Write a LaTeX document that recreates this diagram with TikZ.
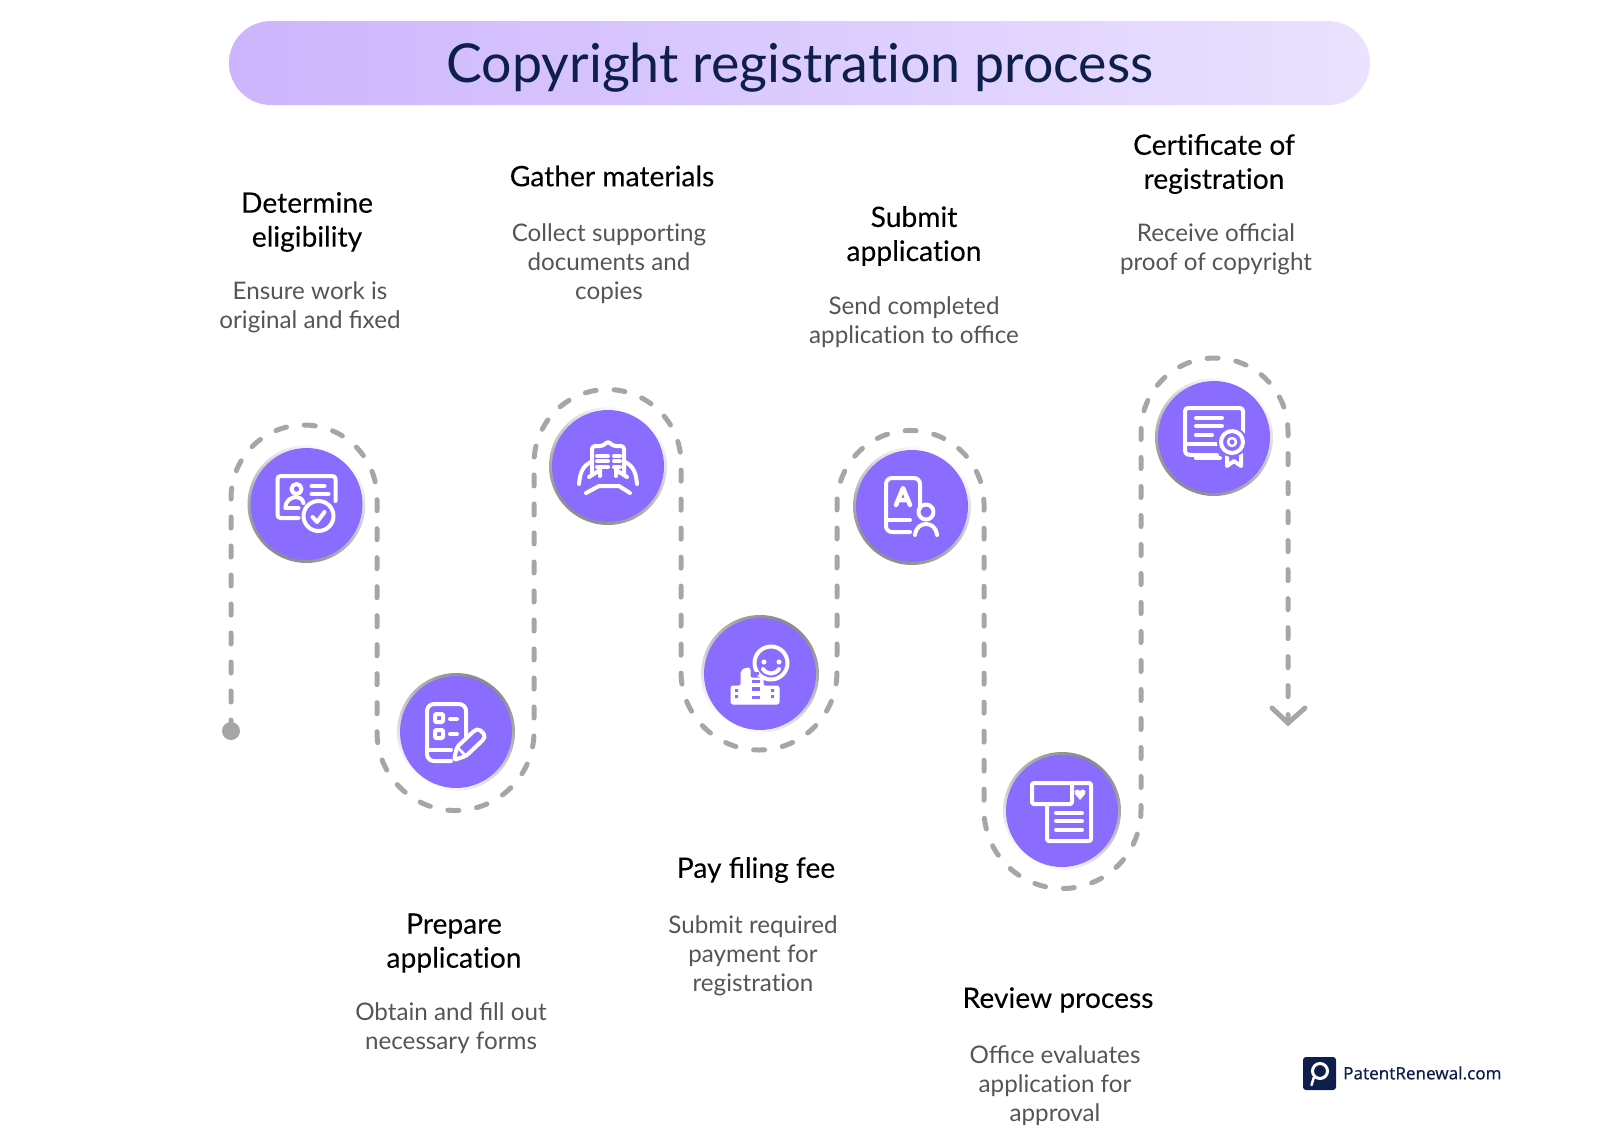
\documentclass[tikz,border=0pt]{standalone}
\usepackage{fontspec}
\setmainfont{Lato}
\newfontfamily\headfont[FakeBold=0.12]{Lato}
\newfontfamily\logofont[FakeBold=0.35]{Noto Sans}
\newcommand{\nolig}{\kern0pt }
\definecolor{trailc}{HTML}{A6A6A6}
\definecolor{disc}{HTML}{8A6CFF}
\definecolor{navy}{HTML}{0F1F4B}
\definecolor{bodyc}{HTML}{555555}
\definecolor{pillL}{HTML}{CDB5FD}
\definecolor{pillR}{HTML}{EAE2FE}
\definecolor{ringd}{HTML}{8C8C8C}
\tikzset{
  pill/.style={rounded corners=42pt,minimum width=1141pt,minimum height=84pt,left color=pillL,right color=pillR,draw=none,inner sep=0pt},
  trail/.style={draw=trailc,line width=5pt,line cap=round,dash pattern=on 11pt off 18pt},
  ringodd/.style={circle,minimum size=118pt,inner sep=0pt,shading=axis,top color=white,bottom color=ringd,shading angle=-30},
  ringeven/.style={circle,minimum size=118pt,inner sep=0pt,shading=axis,top color=ringd,bottom color=white,shading angle=-30},
  discn/.style={circle,minimum size=112pt,inner sep=0pt,fill=disc},
  ttl/.style={align=center,text=black,font=\headfont\fontsize{28.2}{34}\selectfont,inner sep=0pt},
  bdy/.style={align=center,text=bodyc,font=\fontsize{24.2}{29}\selectfont,inner sep=0pt},
  ic/.style={draw=white,line width=4pt,line cap=round,line join=round},
  icf/.style={fill=white,draw=white,line width=1pt,line join=round},
  icp/.style={fill=disc,draw=none}
}
\begin{document}
\begin{tikzpicture}[x=1pt,y=-1pt]
\useasboundingbox (0,0) rectangle (1600,1136);
% title
\node[pill] (title) at (799.5,63) {};
\node[text=navy,inner sep=0pt,font=\fontsize{53.7}{60}\selectfont] (titletext) at (800,68) {Copyright registrat\nolig ion process};
% trail
\node[circle,fill=trailc,minimum size=18pt,inner sep=0pt] (startdot) at (231,731) {};
\coordinate (endtip) at (1288,723);
\coordinate (wingL) at (1272,708);
\coordinate (wingR) at (1305,708);
\draw[trail] (startdot.center) -- (231,498) arc[start angle=180,end angle=0,radius=73pt]
  -- (377,732) arc[start angle=180,end angle=360,radius=78.5pt]
  -- (534,463) arc[start angle=180,end angle=0,radius=73.5pt]
  -- (681,672) arc[start angle=180,end angle=360,radius=78pt]
  -- (837,504) arc[start angle=180,end angle=0,radius=73.5pt]
  -- (984,810) arc[start angle=180,end angle=360,radius=78.5pt]
  -- (1141,431.5) arc[start angle=180,end angle=0,radius=73.5pt]
  -- (endtip);
\draw[draw=trailc,line width=5pt,line cap=round,line join=miter] (wingL) -- (endtip) -- (wingR);
% discs
\node[ringodd] (r1) at (306.5,504) {}; \node[discn] (c1) at (306.5,504) {};
\node[ringeven] (r2) at (456,732) {}; \node[discn] (c2) at (456,732) {};
\node[ringodd] (r3) at (608,466) {}; \node[discn] (c3) at (608,466) {};
\node[ringeven] (r4) at (760,674) {}; \node[discn] (c4) at (760,674) {};
\node[ringodd] (r5) at (912,506) {}; \node[discn] (c5) at (912,506) {};
\node[ringeven] (r6) at (1062,811) {}; \node[discn] (c6) at (1062,811) {};
\node[ringodd] (r7) at (1214,437) {}; \node[discn] (c7) at (1214,437) {};
% icon 1
\begin{scope}[shift={(c1.center)}]
\draw[ic,rounded corners=3pt] (29,-3) -- (29,-28) -- (-29,-28) -- (-29,14) -- (-8,14);
\draw[ic] (-10,-15) circle[radius=5pt];
\draw[ic] (-21,4) .. controls (-21,-4) and (-15,-7) .. (-10,-7) .. controls (-7,-7) and (-4,-5) .. (-3,-1);
\draw[ic] (-21,4) -- (-8,4);
\draw[ic] (5,-18) -- (18,-18) (5,-10) -- (22,-10);
\draw[ic] (12,12) circle[radius=15pt];
\draw[ic] (6,13) -- (10.5,18) -- (18,8);
\end{scope}
% icon 2
\begin{scope}[shift={(c2.center)}]
\draw[ic,rounded corners=7pt] (10,4) -- (10,-28) -- (-29,-28) -- (-29,29) -- (-5,29);
\draw[ic] (-28,18) -- (-5,18);
\draw[ic,rounded corners=1pt] (-21,-18) rectangle (-13,-10);
\draw[ic,rounded corners=1pt] (-21,-2) rectangle (-13,6);
\draw[ic] (-6,-13) -- (1,-13) (-6,2) -- (1,2);
\draw[ic,rounded corners=2pt] (-2,28) -- (1,15) -- (19,-2) -- (23,-3) -- (29,3) -- (28,7) -- (10,24) -- cycle;
\draw[ic,line width=2.5pt] (1,15) -- (10,24);
\end{scope}
% icon 3
\begin{scope}[shift={(c3.center)}]
\draw[ic,rounded corners=3pt] (-16,8) -- (-16,-20) -- (-5,-20) -- (0,-25) -- (5,-20) -- (16,-20) -- (16,8);
\draw[ic] (-11,-10) -- (0,-10) (-11,-5) -- (0,-5) (-11,1) -- (0,1);
\draw[ic] (6,-10) -- (12,-10) (6,-5) -- (12,-5) (6,1) -- (12,1);
\draw[ic] (-29,18) .. controls (-28,8) and (-26,0) .. (-17,-4);
\draw[ic] (29,18) .. controls (28,8) and (26,0) .. (17,-4);
\draw[ic] (-22,27) -- (-9,20) -- (11,20) -- (22,27);
\draw[ic] (-19,11) -- (-8,4) -- (-8,10) (19,11) -- (8,4) -- (8,10);
\end{scope}
% icon 4
\begin{scope}[shift={(c4.center)}]
\draw[ic] (11,-11) circle[radius=16.5pt];
\fill[white] (4,-12) circle[radius=2.5pt] (19,-12) circle[radius=2.5pt];
\draw[ic] (3,-5) .. controls (7,1) and (15,1) .. (19,-5);
\draw[icf,rounded corners=2pt] (-29,12) -- (-19,12) -- (-19,-3) -- (-14,-6) -- (-10,-6) -- (-10,4) -- (3,4) -- (3,12) -- (19,12) -- (19,30) -- (-29,30) -- cycle;
\fill[disc] (-8,-2) rectangle (-1,1);
\fill[disc] (-8,6) rectangle (0,9);
\fill[disc] (-8,13) rectangle (0,17);
\fill[disc] (-8,22) rectangle (0,25);
\fill[disc] (-25,15) rectangle (-22,18) (-25,21) rectangle (-22,24);
\fill[disc] (11,15) rectangle (14,18) (11,21) rectangle (14,24);
\end{scope}
% icon 5
\begin{scope}[shift={(c5.center)}]
\draw[ic,rounded corners=6pt] (8,2) -- (8,-28) -- (-26,-28) -- (-26,26) -- (-2,26);
\draw[ic] (-25,14) -- (-2,14);
\draw[ic,line width=4.5pt] (-16,-1) -- (-9,-18) -- (-2,-1) (-13,-6) -- (-5,-6);
\draw[ic] (14,6) circle[radius=7.5pt];
\draw[ic] (3,29) .. controls (4,21) and (9,18) .. (14,18) .. controls (19,18) and (24,21) .. (25,29);
\end{scope}
% icon 6
\begin{scope}[shift={(c6.center)}]
\draw[ic,rounded corners=2pt] (-30,-28) rectangle (10,-7);
\draw[ic,rounded corners=2pt] (10,-28) -- (29,-28) -- (29,30) -- (-15,30) -- (-15,-7);
\draw[ic] (-6,2) -- (20,2) (-6,10) -- (20,10) (-6,18.5) -- (20,18.5);
\fill[white] (18,-11) -- (13,-17) .. controls (11,-21) and (16,-23) .. (18,-20) .. controls (20,-23) and (25,-21) .. (23,-17) -- cycle;
\end{scope}
% icon 7
\begin{scope}[shift={(c7.center)}]
\draw[ic,rounded corners=3pt] (29,-5) -- (29,-29) -- (-29,-29) -- (-29,17) -- (-24,18) -- (3,18);
\draw[ic] (-18,-19) -- (8,-19) (-18,-11) -- (8,-11) (-18,-2) -- (-2,-2);
\draw[ic] (-26,7) -- (3,7);
\draw[ic] (-18,21) -- (6,21);
\draw[ic] (13,17) -- (13,29) -- (20,24) -- (27,29) -- (27,17);
\fill[disc] (18,5) circle[radius=15pt];
\draw[ic,dash pattern=on 5pt off 1pt] (18,5) circle[radius=11pt];
\draw[ic,line width=2.5pt] (18,5) circle[radius=4pt];
\end{scope}
% texts
\node[ttl] (t1) at (307,222) {Determine\\eligibility};
\node[bdy] (b1) at (310,307) {Ensure work is\\original and fixed};
\node[ttl] (t3) at (612,176) {Gather materials};
\node[bdy] (b3) at (609,264) {Collect support\nolig ing\\documents and\\copies};
\node[ttl] (t5) at (914,236) {Submit\\applicat\nolig ion};
\node[bdy] (b5) at (914,322) {Send completed\\applicat\nolig ion to office};
\node[ttl] (t7) at (1214,164) {Cert\nolig ificate of\\registrat\nolig ion};
\node[bdy] (b7) at (1216,249) {Receive official\\proof of copyright};
\node[ttl] (t2) at (454,943) {Prepare\\applicat\nolig ion};
\node[bdy] (b2) at (451,1028) {Obtain and fill out\\necessary forms};
\node[ttl] (t4) at (756,870) {Pay filing fee};
\node[bdy] (b4) at (753,956) {Submit required\\payment for\\registrat\nolig ion};
\node[ttl] (t6) at (1058,1000) {Review process};
\node[bdy] (b6) at (1055,1086) {Office evaluates\\applicat\nolig ion for\\approval};
% logo
\node[fill=navy,rounded corners=3pt,minimum width=33pt,minimum height=33pt,inner sep=0pt] (logo) at (1319.5,1073.5) {};
\draw[white,line width=3pt] (1320,1071) circle[radius=7.5pt];
\draw[white,line width=2.5pt,line cap=round] (1314,1077) -- (1311.5,1085);
\node[anchor=west,text=navy,inner sep=0pt,font=\logofont\fontsize{17}{20}\selectfont] (logotext) at (1343,1073) {PatentRenewal.com};
\end{tikzpicture}
\end{document}
